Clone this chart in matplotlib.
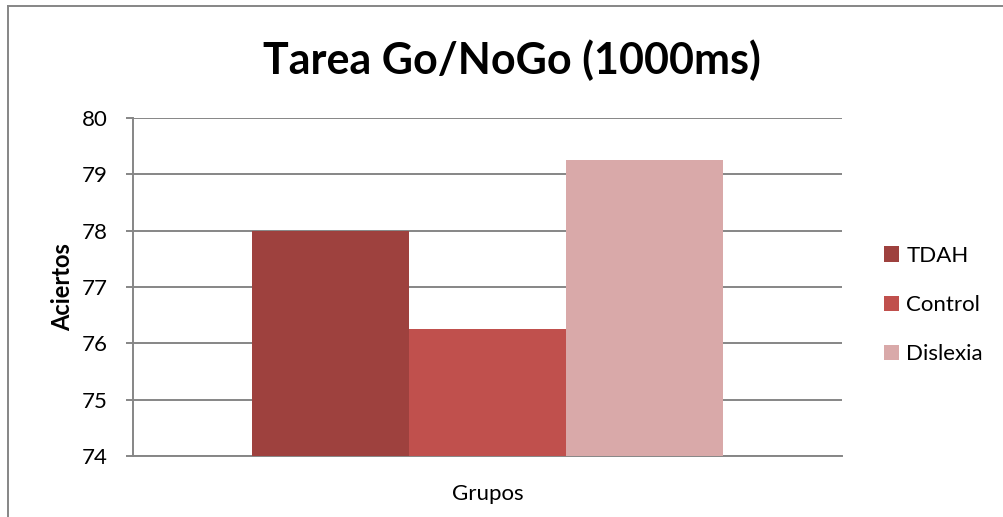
import matplotlib
matplotlib.use("Agg")
import matplotlib.pyplot as plt
from matplotlib.lines import Line2D
from matplotlib.patches import Patch

plt.rcParams['font.family'] = ['Lato', 'DejaVu Sans']

categories = ["Grupos"]
series = ["TDAH", "Control", "Dislexia"]
values = [78.0, 76.25, 79.25]
colors = ["#9E413E", "#C0504D", "#D9A9A9"]
yticks = [74, 75, 76, 77, 78, 79, 80]

W, H = 1004, 517
fig = plt.figure(figsize=(W/100, H/100), dpi=100)
ax = fig.add_axes([133/W, 1-456/H, (842-133)/W, (456-118)/H])

bw = 0.2214
offsets = [-bw, 0, bw]
for s, v, c, o in zip(series, values, colors, offsets):
    ax.bar(0 + o, v - 74, bottom=74, width=bw, color=c, label=s, zorder=3)

ax.set_xlim(-0.5, 0.5)
ax.set_ylim(74, 80)
ax.set_yticks(yticks)
ax.set_yticklabels([str(t) for t in yticks], fontsize=16)
ax.set_xticks([])
ax.yaxis.grid(True, color="#868686", linewidth=1.4, zorder=0)
for sp in ["top", "right"]:
    ax.spines[sp].set_visible(False)
for sp in ["left", "bottom"]:
    ax.spines[sp].set_color("#868686")
    ax.spines[sp].set_linewidth(1.4)
ax.tick_params(axis='y', length=5, width=1.4, color="#868686", pad=13)

ax.set_ylabel("Aciertos", fontsize=17, fontweight="bold", labelpad=5.5)
ax.set_xlabel("Grupos", fontsize=16, labelpad=20)

fig.text(512/W, 1-60/H, "Tarea Go/NoGo (1000ms)", ha="center", va="center",
         fontsize=31, fontweight="bold")

handles = [Patch(facecolor=c, label=s) for s, c in zip(series, colors)]
leg = fig.legend(handles=handles, loc="center left", bbox_to_anchor=(884/W, 1-305/H),
                 frameon=False, fontsize=16, handlelength=0.68, handleheight=0.68,
                 handletextpad=0.32, labelspacing=1.32, borderpad=0, borderaxespad=0)

fig.add_artist(Line2D([8/W, 8/W], [0, 1-6/H], color="#868686", linewidth=1.4, transform=fig.transFigure))
fig.add_artist(Line2D([8/W, 1], [1-6/H, 1-6/H], color="#868686", linewidth=1.4, transform=fig.transFigure))

fig.savefig("out.png", dpi=100)
